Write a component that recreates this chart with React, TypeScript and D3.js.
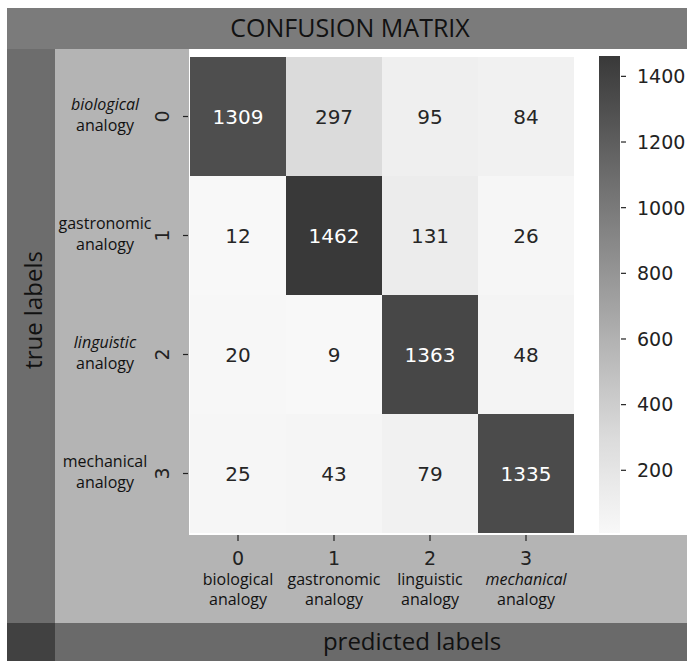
import React from "react";
import * as d3 from "d3";

const classIds = ["0", "1", "2", "3"];
const classNames = ["biological", "gastronomic", "linguistic", "mechanical"];
const classSuffix = "analogy";
const row0 = [1309, 297, 95, 84];
const row1 = [12, 1462, 131, 26];
const row2 = [20, 9, 1363, 48];
const row3 = [25, 43, 79, 1335];
const matrix = [row0, row1, row2, row3];
const colorbarTicks = [200, 400, 600, 800, 1000, 1200, 1400];
const title = "CONFUSION MATRIX";
const xTitle = "predicted labels";
const yTitle = "true labels";

const W = 687;
const H = 661;
const HM = { left: 190, right: 574, top: 57, bottom: 533 };
const CB = { left: 599, right: 620 };
const labelFont = "'Open Sans', 'DejaVu Sans', sans-serif";
const numFont = "'DejaVu Sans', sans-serif";

export default function App() {
  const vmin = d3.min(matrix.flat()) as number;
  const vmax = d3.max(matrix.flat()) as number;
  const idx = d3.range(classIds.length);
  const x = d3.scaleBand<number>().domain(idx).range([HM.left, HM.right]);
  const y = d3.scaleBand<number>().domain(idx).range([HM.top, HM.bottom]);
  const color = d3
    .scaleLinear<string>()
    .domain([vmin, 300, vmax])
    .range(["#f8f8f8", "#dbdbdb", "#393939"])
    .interpolate(d3.interpolateRgb);
  const cbY = d3.scaleLinear().domain([vmin, vmax]).range([HM.bottom, HM.top - 1]);
  const stops = d3.range(0, 1.0001, 0.05).map((t) => {
    const v = vmin + t * (vmax - vmin);
    return { off: t, c: color(v) };
  });
  const textColor = (v: number) => {
    const c = d3.rgb(color(v));
    const lum = (0.299 * c.r + 0.587 * c.g + 0.114 * c.b) / 255;
    return lum > 0.45 ? "#262626" : "#ffffff";
  };

  return (
    <svg
      width={W}
      height={H}
      style={{ position: "absolute", left: 0, top: 0 }}
      xmlns="http://www.w3.org/2000/svg"
    >
      <defs>
        <linearGradient id="cbgrad" x1="0" y1="1" x2="0" y2="0">
          {stops.map((s, i) => (
            <stop key={i} offset={s.off} stopColor={s.c} />
          ))}
        </linearGradient>
      </defs>
      <rect x={0} y={0} width={W} height={H} fill="#ffffff" />
      <rect x={55} y={49} width={W - 55} height={623 - 49} fill="#b4b4b4" />
      <rect x={189} y={49} width={W - 189} height={535 - 49} fill="#ffffff" />
      <rect x={7} y={8} width={W - 7} height={41} fill="#7b7b7b" />
      <rect x={7} y={49} width={48} height={623 - 49} fill="#6d6d6d" />
      <rect x={55} y={623} width={W - 55} height={H - 623} fill="#6a6a6a" />
      <rect x={7} y={623} width={48} height={H - 623} fill="#414141" />

      <text x={350} y={37} textAnchor="middle" fontFamily={labelFont} fontSize={25} fill="#111">
        {title}
      </text>
      <text x={412} y={650} textAnchor="middle" fontFamily={labelFont} fontSize={24} fill="#111">
        {xTitle}
      </text>
      <text
        transform={`translate(42,310) rotate(-90)`}
        textAnchor="middle"
        fontFamily={labelFont}
        fontSize={24}
        fill="#111"
      >
        {yTitle}
      </text>

      {matrix.map((row, r) =>
        row.map((v, c) => (
          <g key={`${r}-${c}`}>
            <rect x={x(c)} y={y(r)} width={x.bandwidth()} height={y.bandwidth()} fill={color(v)} />
            <text
              x={(x(c) as number) + x.bandwidth() / 2}
              y={(y(r) as number) + y.bandwidth() / 2}
              dy="0.36em"
              textAnchor="middle"
              fontFamily={numFont}
              fontSize={20}
              fill={textColor(v)}
            >
              {v}
            </text>
          </g>
        ))
      )}

      {idx.map((i) => {
        const cy = (y(i) as number) + y.bandwidth() / 2;
        return (
          <g key={`yt${i}`}>
            <line x1={183} x2={188} y1={cy} y2={cy} stroke="#222" strokeWidth={1.2} />
            <text
              transform={`translate(162,${cy}) rotate(-90)`}
              dy="0.36em"
              textAnchor="middle"
              fontFamily={numFont}
              fontSize={19}
              fill="#222"
            >
              {classIds[i]}
            </text>
            <text
              x={105}
              y={cy - 7}
              textAnchor="middle"
              fontFamily={labelFont}
              fontSize={16}
              fontStyle={i === 0 || i === 2 ? "italic" : "normal"}
              fill="#111"
            >
              {classNames[i]}
            </text>
            <text x={105} y={cy + 14} textAnchor="middle" fontFamily={labelFont} fontSize={16} fill="#111">
              {classSuffix}
            </text>
          </g>
        );
      })}

      {idx.map((i) => {
        const cx = (x(i) as number) + x.bandwidth() / 2;
        return (
          <g key={`xt${i}`}>
            <line x1={cx} x2={cx} y1={535} y2={541} stroke="#222" strokeWidth={1.2} />
            <text x={cx} y={565} textAnchor="middle" fontFamily={numFont} fontSize={19} fill="#222">
              {classIds[i]}
            </text>
            <text
              x={cx}
              y={585}
              textAnchor="middle"
              fontFamily={labelFont}
              fontSize={16}
              fontStyle={i === 3 ? "italic" : "normal"}
              fill="#111"
            >
              {classNames[i]}
            </text>
            <text x={cx} y={605} textAnchor="middle" fontFamily={labelFont} fontSize={16} fill="#111">
              {classSuffix}
            </text>
          </g>
        );
      })}

      <rect
        x={CB.left}
        y={cbY(vmax)}
        width={CB.right - CB.left}
        height={cbY(vmin) - cbY(vmax)}
        fill="url(#cbgrad)"
      />
      {colorbarTicks.map((t) => (
        <g key={`cb${t}`}>
          <line x1={CB.right + 1} x2={CB.right + 6} y1={cbY(t)} y2={cbY(t)} stroke="#222" strokeWidth={1.2} />
          <text x={637} y={cbY(t)} dy="0.36em" fontFamily={numFont} fontSize={19} fill="#222">
            {t}
          </text>
        </g>
      ))}
    </svg>
  );
}
